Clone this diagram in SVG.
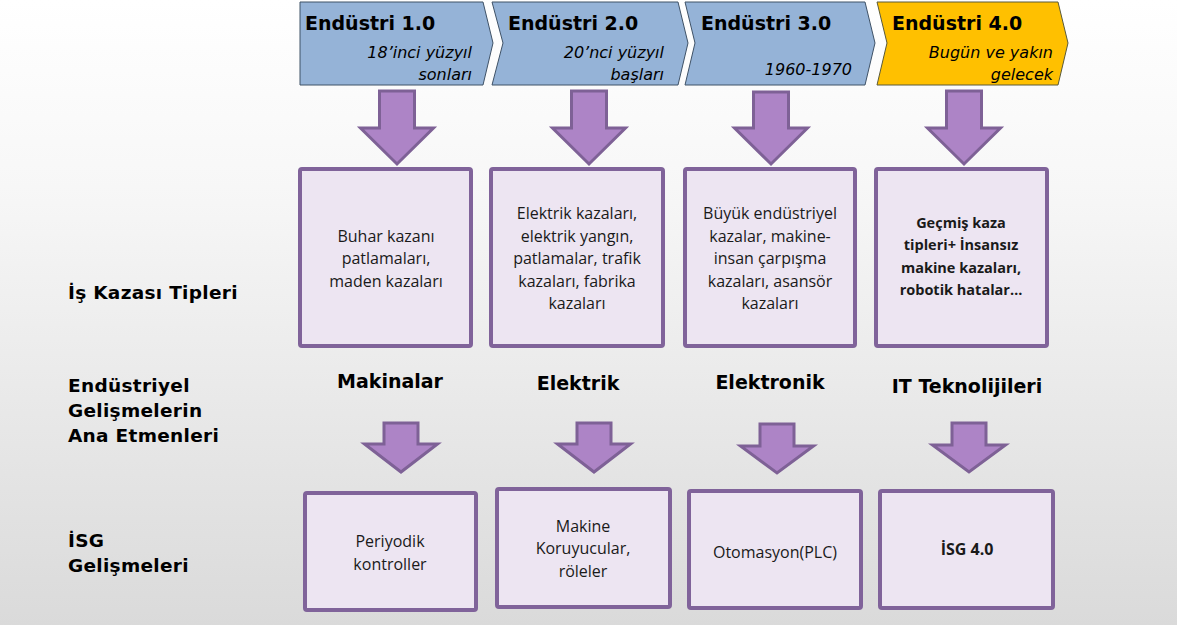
<svg xmlns="http://www.w3.org/2000/svg" width="1177" height="625" viewBox="0 0 1177 625">
<defs>
<linearGradient id="bg" x1="0" y1="0" x2="0" y2="1">
<stop offset="0" stop-color="#ffffff"/>
<stop offset="0.3" stop-color="#f7f7f7"/>
<stop offset="1" stop-color="#dadada"/>
</linearGradient>
<style>
.chev{fill:#95b3d7;stroke:#3f5267;stroke-width:1}
.chev4{fill:#ffc000;stroke:#5a5a3a;stroke-width:1}
.title{font-family:"DejaVu Sans",Verdana,sans-serif;font-weight:bold;font-size:19px;fill:#000}
.sub{font-family:"DejaVu Sans",Verdana,sans-serif;font-style:italic;font-size:16px;fill:#000;text-anchor:end}
.arrow{fill:#ad84c6;stroke:#7e6196;stroke-width:3;stroke-linejoin:miter}
.box{fill:#ede5f2;stroke:#80639a;stroke-width:4}
.bt{font-family:"Open Sans",sans-serif;font-size:16px;fill:#1a1a1a;text-anchor:middle}
.btb{font-family:"Open Sans",sans-serif;font-weight:bold;font-size:14.5px;fill:#1a1a1a;text-anchor:middle}
.lab{font-family:"DejaVu Sans",Verdana,sans-serif;font-weight:bold;font-size:18.5px;letter-spacing:0.3px;fill:#000}
.col{font-family:"DejaVu Sans",Verdana,sans-serif;font-weight:bold;font-size:19px;fill:#000;text-anchor:middle}
</style>
</defs>
<rect x="0" y="0" width="1177" height="625" fill="url(#bg)"/>

<g id="chevron1">
<polygon class="chev" points="300,2 483,2 493,43 483,85 300,85"/>
<text class="title" x="305" y="30">Endüstri 1.0</text>
<text class="sub" x="472" y="58">18’inci yüzyıl</text>
<text class="sub" x="472" y="80">sonları</text>
</g>
<g id="chevron2">
<polygon class="chev" points="492,2 678,2 688,43 678,85 492,85 503,43"/>
<text class="title" x="508" y="30">Endüstri 2.0</text>
<text class="sub" x="664" y="58">20’nci yüzyıl</text>
<text class="sub" x="664" y="80">başları</text>
</g>
<g id="chevron3">
<polygon class="chev" points="685,2 865,2 875,43 865,85 685,85 695,43"/>
<text class="title" x="701" y="30">Endüstri 3.0</text>
<text class="sub" x="852" y="75">1960-1970</text>
</g>
<g id="chevron4">
<polygon class="chev4" points="877,2 1058,2 1068,43 1058,85 877,85 887,43"/>
<text class="title" x="892" y="30">Endüstri 4.0</text>
<text class="sub" x="1053" y="58">Bugün ve yakın</text>
<text class="sub" x="1053" y="80">gelecek</text>
</g>

<g id="connectors">
<polygon class="arrow" points="379.5,91 414.5,91 414.5,128 433.5,128 397,164 360.5,128 379.5,128"/>
<polygon class="arrow" points="571.5,91 606.5,91 606.5,128 625.5,128 589,164 552.5,128 571.5,128"/>
<polygon class="arrow" points="753.5,92 788.5,92 788.5,128 807.5,128 771,164 734.5,128 753.5,128"/>
<polygon class="arrow" points="946.5,91 981.5,91 981.5,128 1000.5,128 964,164 927.5,128 946.5,128"/>
<polygon class="arrow" points="384,423 418,423 418,444 437.5,444 401,472 364.5,444 384,444"/>
<polygon class="arrow" points="577,423 611,423 611,444 630.5,444 594,472 557.5,444 577,444"/>
<polygon class="arrow" points="760,424 794,424 794,446 813.5,446 777,473 740.5,446 760,446"/>
<polygon class="arrow" points="952,423 986,423 986,445 1005.5,445 969,472 932.5,445 952,445"/>
</g>

<g id="box1">
<rect class="box" x="300" y="169" width="171" height="177" rx="2"/>
<text class="bt" x="386" y="242">Buhar kazanı</text>
<text class="bt" x="386" y="264">patlamaları,</text>
<text class="bt" x="386" y="287">maden kazaları</text>
</g>
<g id="box2">
<rect class="box" x="491" y="169" width="172" height="177" rx="2"/>
<text class="bt" x="577" y="219">Elektrik kazaları,</text>
<text class="bt" x="577" y="242">elektrik yangın,</text>
<text class="bt" x="577" y="264">patlamalar, trafik</text>
<text class="bt" x="577" y="287">kazaları, fabrika</text>
<text class="bt" x="577" y="309">kazaları</text>
</g>
<g id="box3">
<rect class="box" x="685" y="169" width="170" height="177" rx="2"/>
<text class="bt" x="770" y="219">Büyük endüstriyel</text>
<text class="bt" x="770" y="242">kazalar, makine-</text>
<text class="bt" x="770" y="264">insan çarpışma</text>
<text class="bt" x="770" y="287">kazaları, asansör</text>
<text class="bt" x="770" y="309">kazaları</text>
</g>
<g id="box4">
<rect class="box" x="876" y="169" width="171" height="177" rx="2"/>
<text class="btb" x="961" y="228">Geçmiş kaza</text>
<text class="btb" x="961" y="250">tipleri+ İnsansız</text>
<text class="btb" x="961" y="273">makine kazaları,</text>
<text class="btb" x="961" y="295">robotik hatalar…</text>
</g>

<g id="label-kaza">
<text class="lab" x="68" y="299">İş Kazası Tipleri</text>
</g>
<g id="label-etmen">
<text class="lab" x="68" y="392">Endüstriyel</text>
<text class="lab" x="68" y="417">Gelişmelerin</text>
<text class="lab" x="68" y="442">Ana Etmenleri</text>
</g>
<g id="label-isg">
<text class="lab" x="68" y="547">İSG</text>
<text class="lab" x="68" y="572">Gelişmeleri</text>
</g>

<g id="factor1"><text class="col" x="390" y="388">Makinalar</text></g>
<g id="factor2"><text class="col" x="578" y="390">Elektrik</text></g>
<g id="factor3"><text class="col" x="770" y="389">Elektronik</text></g>
<g id="factor4"><text class="col" x="967" y="393">IT Teknolijileri</text></g>

<g id="isg1">
<rect class="box" x="305" y="493" width="171" height="117" rx="2"/>
<text class="bt" x="390" y="547">Periyodik</text>
<text class="bt" x="390" y="570">kontroller</text>
</g>
<g id="isg2">
<rect class="box" x="497" y="489" width="173" height="118" rx="2"/>
<text class="bt" x="583" y="532">Makine</text>
<text class="bt" x="583" y="554">Koruyucular,</text>
<text class="bt" x="583" y="577">röleler</text>
</g>
<g id="isg3">
<rect class="box" x="689" y="491" width="172" height="117" rx="2"/>
<text class="bt" x="775" y="558">Otomasyon(PLC)</text>
</g>
<g id="isg4">
<rect class="box" x="880" y="491" width="173" height="117" rx="2"/>
<text class="btb" x="967" y="555" style="font-size:16px">İSG 4.0</text>
</g>
</svg>
